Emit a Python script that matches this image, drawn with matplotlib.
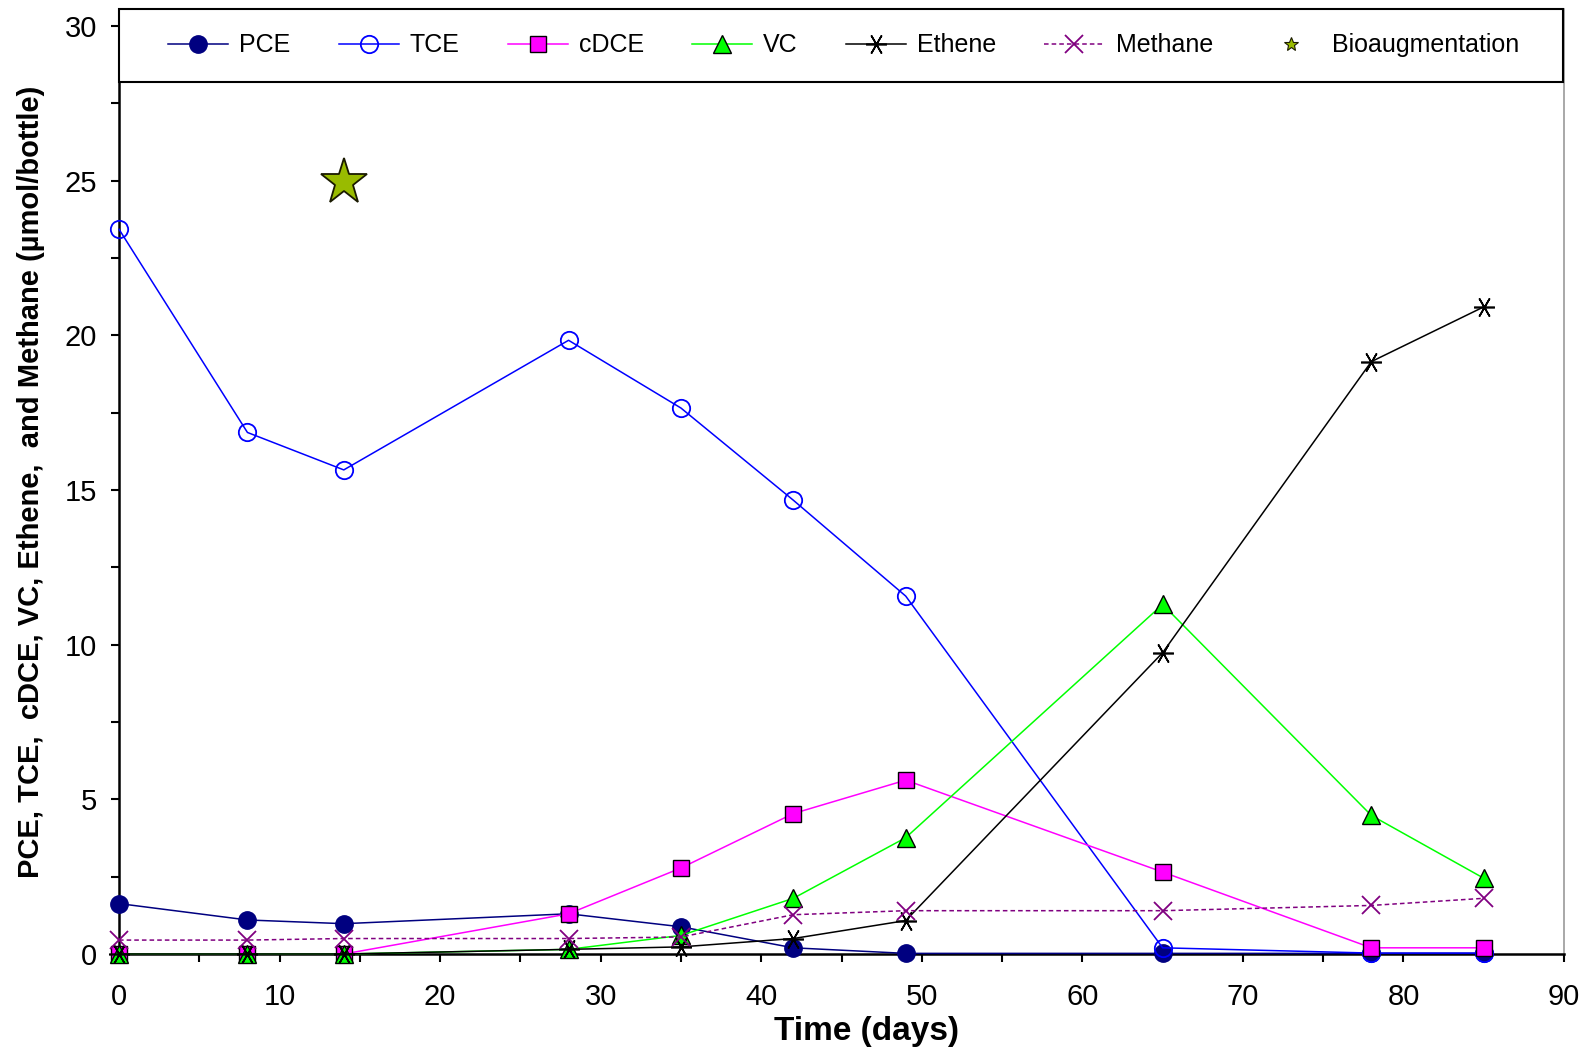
import matplotlib
matplotlib.use("Agg")
import matplotlib.pyplot as plt
from matplotlib.lines import Line2D
from matplotlib.patches import Rectangle
from matplotlib.ticker import MultipleLocator

plt.rcParams['font.family'] = ['Liberation Sans', 'DejaVu Sans']

days = [0, 8, 14, 28, 35, 42, 49, 65, 78, 85]
pce = [1.63, 1.10, 0.98, 1.30, 0.88, 0.20, 0.02, 0.02, 0.02, 0.02]
tce = [23.43, 16.86, 15.65, 19.84, 17.65, 14.67, 11.57, 0.20, 0.03, 0.03]
cdce = [0.0, 0.0, 0.0, 1.30, 2.78, 4.54, 5.62, 2.65, 0.20, 0.20]
vc = [0.0, 0.0, 0.0, 0.15, 0.60, 1.80, 3.76, 11.30, 4.48, 2.45]
ethene = [0.0, 0.0, 0.0, 0.15, 0.23, 0.50, 1.08, 9.74, 19.15, 20.92]
methane = [0.45, 0.45, 0.50, 0.50, 0.55, 1.27, 1.40, 1.40, 1.57, 1.80]
bioaug_day = [14]
bioaug_val = [24.95]

fig = plt.figure(figsize=(15.87, 10.55), dpi=100)
ax = fig.add_axes([119/1587, 1 - 954/1055, (1564 - 119)/1587, (954 - 9.3)/1055])

lw = 1.1
kw = dict(lw=lw, zorder=3, clip_on=False)
ax.plot(days, pce, color='#000080', marker='o', ms=12.5, mfc='#000080', mec='#000080', label='PCE', **kw)
ax.plot(days, tce, color='#0000FF', marker='o', ms=12.5, mfc='none', mec='#0000FF', mew=1.3, label='TCE', **kw)
ax.plot(days, cdce, color='#FF00FF', marker='s', ms=12, mfc='#FF00FF', mec='black', mew=1.0, label='cDCE', **kw)
ax.plot(days, vc, color='#00FF00', marker='^', ms=12.5, mfc='#00FF00', mec='black', mew=1.0, label='VC', **kw)
ax.plot(days, ethene, color='black', marker=(6, 2, 30), ms=15, mec='black', mew=1.2, label='Ethene', **kw)
ax.plot(days, methane, color='#800080', ls=(0, (3, 2)), marker='x', ms=12.5, mec='#800080', mew=1.3, label='Methane', **kw)
ax.plot(bioaug_day, bioaug_val, ls='none', marker='*', ms=35, mfc='#99BB00', mec='#1a1a00', mew=1.3, zorder=4)

ax.set_xlim(0, 90)
ax.set_ylim(0, 30.54)
ax.xaxis.set_major_locator(MultipleLocator(10))
ax.xaxis.set_minor_locator(MultipleLocator(5))
ax.yaxis.set_minor_locator(MultipleLocator(2.5))
ax.set_yticks([0, 5, 10, 15, 20, 25, 30])
ax.tick_params(axis='both', which='both', direction='out', length=6, width=1.5, labelsize=21)
ax.tick_params(axis='x', pad=15)
ax.tick_params(axis='y', pad=10)

ax.spines['top'].set_visible(False)
ax.spines['right'].set_color('#999999')
ax.spines['right'].set_linewidth(1.2)
ax.spines['left'].set_linewidth(1.8)
ax.spines['bottom'].set_linewidth(1.8)

ax.set_xlabel('Time (days)', fontsize=24, fontweight='bold')
ax.xaxis.set_label_coords(0.5175, -0.066)
ax.xaxis.label.set_va('top')
ax.set_ylabel('PCE, TCE,  cDCE, VC, Ethene,  and Methane (\u00b5mol/bottle)', fontsize=21, fontweight='bold', labelpad=14)

bot = 28.2 / 30.54
ax.add_patch(Rectangle((0, bot), 0.9995, 1 - bot, transform=ax.transAxes, facecolor='white',
                       edgecolor='black', lw=1.5, zorder=5, clip_on=False))

handles, labels = ax.get_legend_handles_labels()
handles.append(Line2D([], [], ls='none', marker='*', ms=10, mfc='#99BB00', mec='#1a1a00', mew=0.8))
labels.append('Bioaugmentation')
leg = ax.legend(handles, labels, loc='center', bbox_to_anchor=(0.034, bot, 0.935, 1 - bot), mode='expand',
                ncol=7, fontsize=18, frameon=False,
                handlelength=2.4, handletextpad=0.45, borderaxespad=0, borderpad=0, columnspacing=1.0)
leg.set_zorder(6)

fig.savefig('out.png', dpi=100)
